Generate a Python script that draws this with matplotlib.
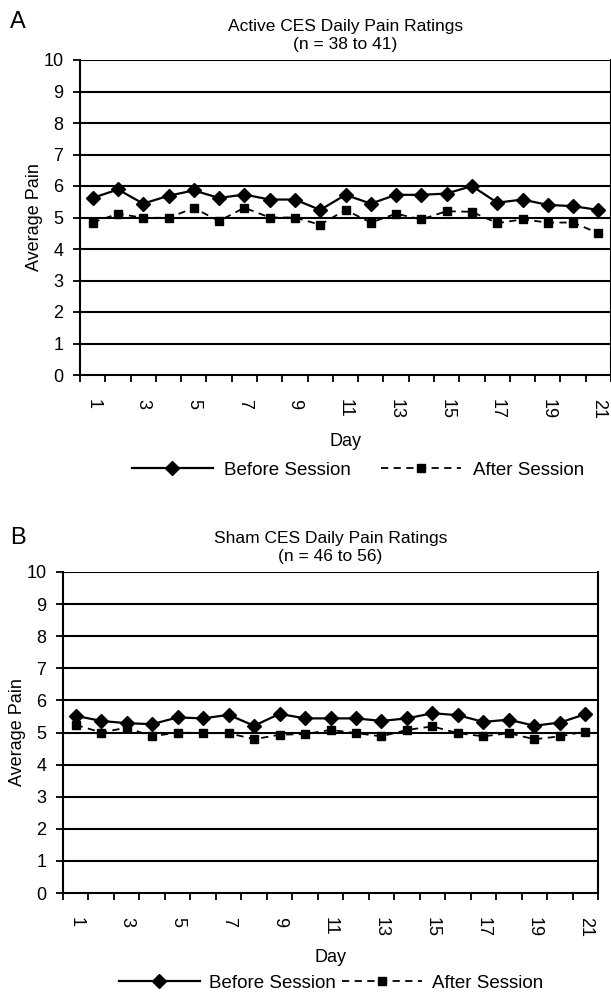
import matplotlib
matplotlib.use('Agg')
import matplotlib.pyplot as plt

plt.rcParams['font.family'] = ['Liberation Sans', 'DejaVu Sans']

days = list(range(1, 22))
day_labels = [str(d) for d in days[::2]]

# Active CES (panel A)
active_before = [5.62, 5.89, 5.44, 5.69, 5.86, 5.62, 5.73, 5.57, 5.57, 5.24, 5.72,
                 5.44, 5.72, 5.72, 5.76, 6.00, 5.47, 5.57, 5.40, 5.36, 5.24]
active_after = [4.84, 5.12, 4.99, 4.99, 5.30, 4.89, 5.31, 5.00, 5.00, 4.77, 5.24,
                4.84, 5.12, 4.94, 5.20, 5.18, 4.82, 4.94, 4.84, 4.84, 4.50]

# Sham CES (panel B)
sham_before = [5.52, 5.36, 5.29, 5.26, 5.47, 5.44, 5.55, 5.21, 5.58, 5.44, 5.44,
               5.44, 5.36, 5.44, 5.60, 5.54, 5.33, 5.40, 5.21, 5.31, 5.57]
sham_after = [5.24, 5.00, 5.15, 4.88, 5.00, 4.98, 4.98, 4.79, 4.93, 4.95, 5.08,
              4.98, 4.88, 5.08, 5.19, 4.98, 4.88, 4.98, 4.79, 4.88, 5.03]

fig = plt.figure(figsize=(6.11, 9.94), dpi=100)
W, H = 611, 994


def panel(rect, before, after, title, letter, letter_xy, day_y, leg_y, leg_x, colspace, textpad):
    ax = fig.add_axes(rect)
    ax.plot(days, before, color='black', lw=1.6, marker='D', markersize=7, label='Before Session')
    ax.plot(days, after, color='black', lw=1.3, ls=(0, (4, 3)), marker='s', markersize=6,
            label='After Session')
    ax.set_xlim(0.5, 21.5)
    ax.set_ylim(0, 10)
    ax.set_yticks(range(0, 11))
    for y in range(1, 11):
        ax.axhline(y, color='black', lw=1.5, zorder=0)
    ax.set_xticks(days[::2])
    ax.set_xticklabels(day_labels, rotation=-90, fontsize=13)
    ax.tick_params(axis='x', which='major', length=0, pad=17)
    ax.set_xticks([d - 0.5 for d in days] + [21.5], minor=True)
    ax.tick_params(axis='x', which='minor', length=5, width=1.3)
    ax.tick_params(axis='y', length=5, width=1.3, labelsize=13, pad=7)
    for s in ax.spines.values():
        s.set_linewidth(1.5)
    ax.spines['top'].set_visible(False)
    ax.set_ylabel('Average Pain', fontsize=13, labelpad=0)
    ax.set_title(title, fontsize=12.5, pad=8, linespacing=1.25)
    fig.text(letter_xy[0] / W, 1 - letter_xy[1] / H, letter, fontsize=17, va='center')
    fig.text(ax.get_position().x0 + ax.get_position().width / 2, 1 - day_y / H, 'Day',
             fontsize=13, ha='center', va='center')
    fig.legend(*ax.get_legend_handles_labels(), loc='center', ncol=2,
               bbox_to_anchor=(leg_x / W, 1 - leg_y / H), frameon=False, fontsize=13.5,
               handlelength=4.3, columnspacing=colspace, handletextpad=textpad)
    return ax


panel([80 / W, 1 - 375 / H, 531 / W, 315 / H], active_before, active_after,
      'Active CES Daily Pain Ratings\n(n = 38 to 41)', 'A', (10, 22), 442, 470, 358, 1.6, 0.6)
panel([63 / W, 1 - 893 / H, 535 / W, 321 / H], sham_before, sham_after,
      'Sham CES Daily Pain Ratings\n(n = 46 to 56)', 'B', (10, 538), 957, 983, 331, 0.3, 0.5)

fig.savefig('out.png', dpi=100)
